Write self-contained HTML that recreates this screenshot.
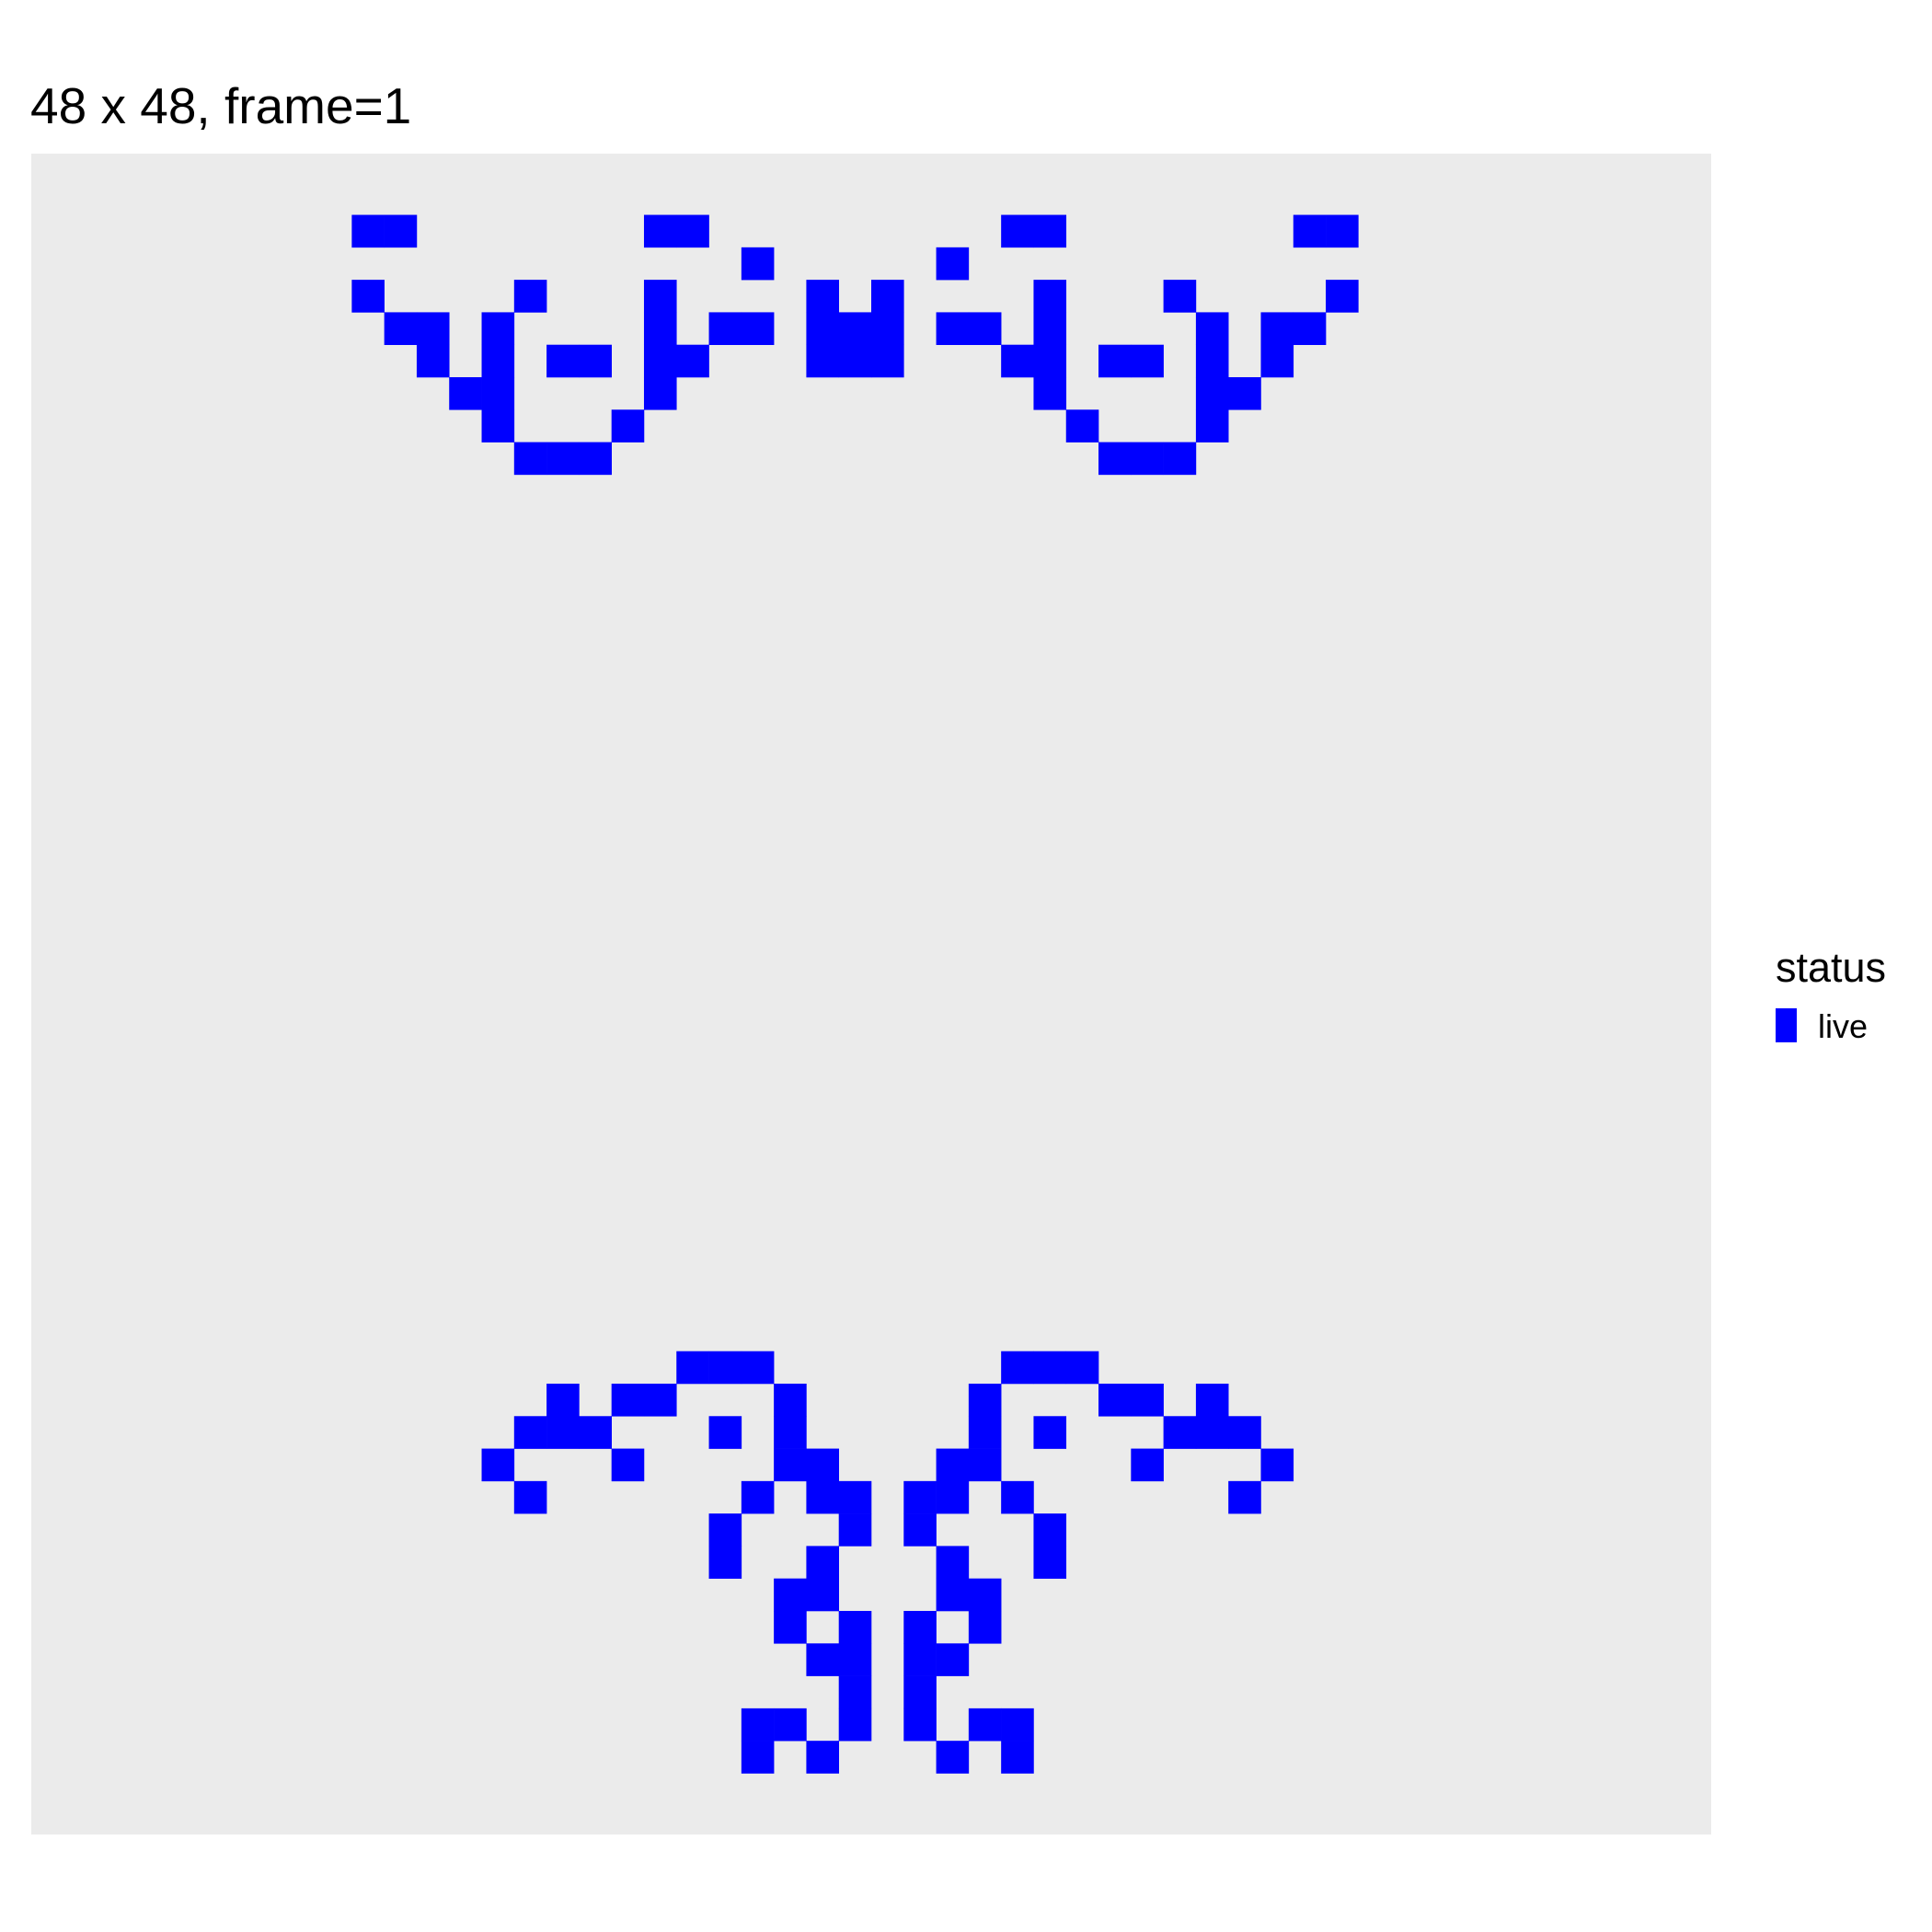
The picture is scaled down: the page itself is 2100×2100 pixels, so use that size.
<!DOCTYPE html>
<html><head><meta charset="utf-8"><style>
html,body{margin:0;padding:0;background:#fff;}
svg{display:block;font-family:"Liberation Sans",sans-serif;}
</style></head><body>
<svg id="chart" width="2100" height="2100" viewBox="0 0 2100 2100">
<text x="33" y="134" font-size="55" fill="#000">48 x 48, frame=1</text>
<rect x="34" y="167" width="1826" height="1827" fill="#ebebeb"/>
<g id="cells"></g>
<text x="1930" y="1067" font-size="45" fill="#000">status</text>
<rect x="1930" y="1096" width="23" height="37" fill="#0000ff"/>
<text x="1976" y="1128" font-size="36" fill="#000">live</text>
</svg>
<script>
const gridSize = 48;
const rowIdx = [0,1,2,3,4,5,6,7,35,36,37,38,39,40,41,42,43,44,45,46,47];
const rowCols = [
 [8,9,17,18,28,29,37,38],
 [20,26],
 [8,13,17,22,24,29,33,38],
 [9,10,12,17,19,20,22,23,24,26,27,29,34,36,37],
 [10,12,14,15,17,18,22,23,24,28,29,31,32,34,36],
 [11,12,17,29,34,35],
 [12,16,30,34],
 [13,14,15,31,32,33],
 [18,19,20,28,29,30],
 [14,16,17,21,27,31,32,34],
 [13,14,15,19,21,27,29,33,34,35],
 [12,16,21,22,26,27,32,36],
 [13,20,22,23,25,26,28,35],
 [19,23,25,29],
 [19,22,26,29],
 [21,22,26,27],
 [21,23,25,27],
 [22,23,25,26],
 [23,25],
 [20,21,23,25,27,28],
 [20,22,26,28]
];
const panelX = 34, panelY = 167, panelW = 1826, panelH = 1827;
const cell = 35.29;
const marginX = (panelW - gridSize*cell)/2, marginY = (panelH - gridSize*cell)/2;
function xScale(c){ return panelX + marginX + c*cell; }
function yScale(r){ return panelY + marginY + r*cell; }
const g = document.getElementById('cells');
const NS = 'http://www.w3.org/2000/svg';
rowIdx.forEach((r,i)=>{
  rowCols[i].forEach(c=>{
    const el = document.createElementNS(NS,'rect');
    
    
    el.setAttribute('x', xScale(c).toFixed(2));
    el.setAttribute('y', yScale(r).toFixed(2));
    el.setAttribute('width', (cell+0.3).toFixed(2));
    el.setAttribute('height', (cell+0.3).toFixed(2));
    el.setAttribute('fill', '#0000ff');
    g.appendChild(el);
  });
});
</script>
</body></html>
